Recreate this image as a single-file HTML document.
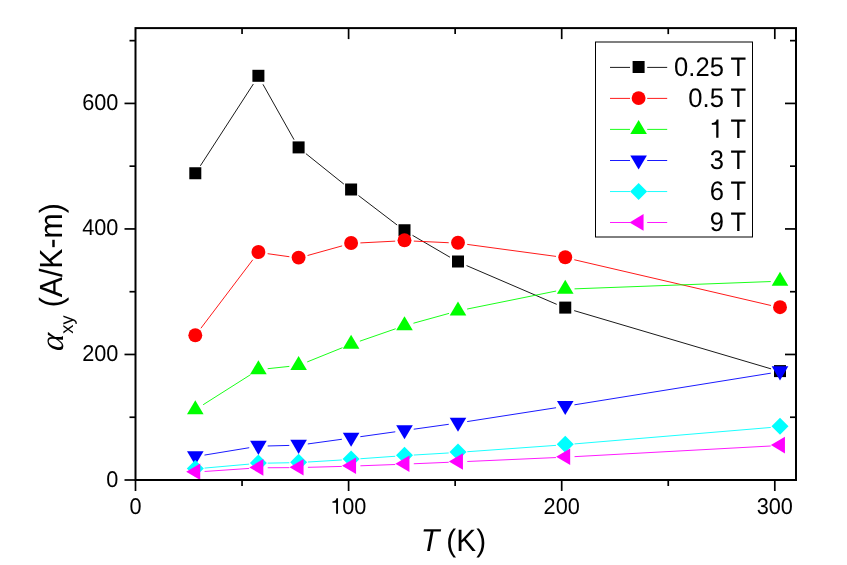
<!DOCTYPE html>
<html><head><meta charset="utf-8"><title>chart</title><style>html,body{margin:0;padding:0;background:#fff}body{width:847px;height:565px;overflow:hidden}</style></head><body>
<svg width="847" height="565" viewBox="0 0 847 565" style="position:fixed;left:0;top:0;display:block;will-change:transform;text-rendering:geometricPrecision;font-family:'Liberation Sans',sans-serif">
<rect width="847" height="565" fill="#fff"/>
<line x1="200.35" y1="165.84" x2="253.35" y2="84.01" stroke="#000000" stroke-width="0.9"/>
<line x1="262.95" y1="84.31" x2="294.05" y2="139.69" stroke="#000000" stroke-width="0.9"/>
<line x1="305.86" y1="153.62" x2="343.84" y2="184.08" stroke="#000000" stroke-width="0.9"/>
<line x1="358.49" y1="195.54" x2="397.11" y2="225.01" stroke="#000000" stroke-width="0.9"/>
<line x1="412.53" y1="235.34" x2="449.97" y2="257.21" stroke="#000000" stroke-width="0.9"/>
<line x1="466.54" y1="265.57" x2="556.71" y2="304.33" stroke="#000000" stroke-width="0.9"/>
<line x1="574.17" y1="310.64" x2="771.08" y2="368.86" stroke="#000000" stroke-width="0.9"/>
<rect x="189.30" y="167.25" width="12.0" height="12.0" fill="#000000"/>
<rect x="252.40" y="69.80" width="12.0" height="12.0" fill="#000000"/>
<rect x="292.60" y="141.40" width="12.0" height="12.0" fill="#000000"/>
<rect x="345.10" y="183.50" width="12.0" height="12.0" fill="#000000"/>
<rect x="398.50" y="224.25" width="12.0" height="12.0" fill="#000000"/>
<rect x="452.00" y="255.50" width="12.0" height="12.0" fill="#000000"/>
<rect x="559.25" y="301.60" width="12.0" height="12.0" fill="#000000"/>
<rect x="774.00" y="365.10" width="12.0" height="12.0" fill="#000000"/>
<line x1="200.92" y1="328.24" x2="252.78" y2="259.81" stroke="#ff0000" stroke-width="0.9"/>
<line x1="267.61" y1="253.68" x2="289.39" y2="256.72" stroke="#ff0000" stroke-width="0.9"/>
<line x1="307.56" y1="255.51" x2="342.14" y2="245.89" stroke="#ff0000" stroke-width="0.9"/>
<line x1="360.39" y1="242.92" x2="395.21" y2="241.13" stroke="#ff0000" stroke-width="0.9"/>
<line x1="413.79" y1="241.08" x2="448.71" y2="242.72" stroke="#ff0000" stroke-width="0.9"/>
<line x1="467.22" y1="244.40" x2="556.03" y2="256.40" stroke="#ff0000" stroke-width="0.9"/>
<line x1="574.31" y1="259.76" x2="770.94" y2="305.49" stroke="#ff0000" stroke-width="0.9"/>
<circle cx="195.30" cy="335.25" r="6.95" fill="#ff0000"/>
<circle cx="258.40" cy="252.00" r="6.95" fill="#ff0000"/>
<circle cx="298.60" cy="257.60" r="6.95" fill="#ff0000"/>
<circle cx="351.10" cy="243.00" r="6.95" fill="#ff0000"/>
<circle cx="404.50" cy="240.25" r="6.95" fill="#ff0000"/>
<circle cx="458.00" cy="242.75" r="6.95" fill="#ff0000"/>
<circle cx="565.25" cy="257.25" r="6.95" fill="#ff0000"/>
<circle cx="780.00" cy="307.20" r="6.95" fill="#ff0000"/>
<line x1="203.15" y1="404.72" x2="250.55" y2="374.68" stroke="#00ff00" stroke-width="0.9"/>
<line x1="267.65" y1="368.71" x2="289.35" y2="366.39" stroke="#00ff00" stroke-width="0.9"/>
<line x1="307.22" y1="361.92" x2="342.48" y2="347.68" stroke="#00ff00" stroke-width="0.9"/>
<line x1="359.89" y1="341.16" x2="395.71" y2="328.74" stroke="#00ff00" stroke-width="0.9"/>
<line x1="413.46" y1="323.22" x2="449.04" y2="313.38" stroke="#00ff00" stroke-width="0.9"/>
<line x1="467.12" y1="309.06" x2="556.13" y2="291.04" stroke="#00ff00" stroke-width="0.9"/>
<line x1="574.54" y1="288.85" x2="770.71" y2="281.55" stroke="#00ff00" stroke-width="0.9"/>
<polygon points="195.30,400.20 203.60,414.25 187.00,414.25" fill="#00ff00"/>
<polygon points="258.40,360.20 266.70,374.25 250.10,374.25" fill="#00ff00"/>
<polygon points="298.60,355.90 306.90,369.95 290.30,369.95" fill="#00ff00"/>
<polygon points="351.10,334.70 359.40,348.75 342.80,348.75" fill="#00ff00"/>
<polygon points="404.50,316.20 412.80,330.25 396.20,330.25" fill="#00ff00"/>
<polygon points="458.00,301.40 466.30,315.45 449.70,315.45" fill="#00ff00"/>
<polygon points="565.25,279.70 573.55,293.75 556.95,293.75" fill="#00ff00"/>
<polygon points="780.00,271.70 788.30,285.75 771.70,285.75" fill="#00ff00"/>
<line x1="204.48" y1="455.09" x2="249.22" y2="447.71" stroke="#0000ff" stroke-width="0.9"/>
<line x1="267.70" y1="445.97" x2="289.30" y2="445.43" stroke="#0000ff" stroke-width="0.9"/>
<line x1="307.81" y1="443.94" x2="341.89" y2="439.26" stroke="#0000ff" stroke-width="0.9"/>
<line x1="360.31" y1="436.71" x2="395.29" y2="431.79" stroke="#0000ff" stroke-width="0.9"/>
<line x1="413.71" y1="429.21" x2="448.79" y2="424.29" stroke="#0000ff" stroke-width="0.9"/>
<line x1="467.19" y1="421.57" x2="556.06" y2="407.73" stroke="#0000ff" stroke-width="0.9"/>
<line x1="574.43" y1="404.82" x2="770.82" y2="373.18" stroke="#0000ff" stroke-width="0.9"/>
<polygon points="195.30,465.30 203.60,451.25 187.00,451.25" fill="#0000ff"/>
<polygon points="258.40,454.90 266.70,440.85 250.10,440.85" fill="#0000ff"/>
<polygon points="298.60,453.90 306.90,439.85 290.30,439.85" fill="#0000ff"/>
<polygon points="351.10,446.70 359.40,432.65 342.80,432.65" fill="#0000ff"/>
<polygon points="404.50,439.20 412.80,425.15 396.20,425.15" fill="#0000ff"/>
<polygon points="458.00,431.70 466.30,417.65 449.70,417.65" fill="#0000ff"/>
<polygon points="565.25,415.00 573.55,400.95 556.95,400.95" fill="#0000ff"/>
<polygon points="780.00,380.40 788.30,366.35 771.70,366.35" fill="#0000ff"/>
<line x1="204.56" y1="468.08" x2="249.14" y2="464.12" stroke="#00ffff" stroke-width="0.9"/>
<line x1="267.70" y1="463.14" x2="289.30" y2="462.76" stroke="#00ffff" stroke-width="0.9"/>
<line x1="307.88" y1="462.03" x2="341.82" y2="459.97" stroke="#00ffff" stroke-width="0.9"/>
<line x1="360.38" y1="458.74" x2="395.22" y2="456.26" stroke="#00ffff" stroke-width="0.9"/>
<line x1="413.78" y1="455.04" x2="448.72" y2="452.96" stroke="#00ffff" stroke-width="0.9"/>
<line x1="467.28" y1="451.73" x2="555.97" y2="445.37" stroke="#00ffff" stroke-width="0.9"/>
<line x1="574.52" y1="443.92" x2="770.73" y2="427.48" stroke="#00ffff" stroke-width="0.9"/>
<polygon points="195.30,460.00 203.80,468.50 195.30,477.00 186.80,468.50" fill="#00ffff"/>
<polygon points="258.40,454.40 266.90,462.90 258.40,471.40 249.90,462.90" fill="#00ffff"/>
<polygon points="298.60,453.70 307.10,462.20 298.60,470.70 290.10,462.20" fill="#00ffff"/>
<polygon points="351.10,450.50 359.60,459.00 351.10,467.50 342.60,459.00" fill="#00ffff"/>
<polygon points="404.50,446.70 413.00,455.20 404.50,463.70 396.00,455.20" fill="#00ffff"/>
<polygon points="458.00,443.50 466.50,452.00 458.00,460.50 449.50,452.00" fill="#00ffff"/>
<polygon points="565.25,435.80 573.75,444.30 565.25,452.80 556.75,444.30" fill="#00ffff"/>
<polygon points="780.00,417.80 788.50,426.30 780.00,434.80 771.50,426.30" fill="#00ffff"/>
<line x1="204.58" y1="471.47" x2="249.12" y2="468.43" stroke="#ff00ff" stroke-width="0.9"/>
<line x1="267.70" y1="467.75" x2="289.30" y2="467.65" stroke="#ff00ff" stroke-width="0.9"/>
<line x1="307.90" y1="467.34" x2="341.80" y2="466.41" stroke="#ff00ff" stroke-width="0.9"/>
<line x1="360.39" y1="465.80" x2="395.21" y2="464.50" stroke="#ff00ff" stroke-width="0.9"/>
<line x1="413.79" y1="463.76" x2="448.71" y2="462.29" stroke="#ff00ff" stroke-width="0.9"/>
<line x1="467.29" y1="461.49" x2="555.96" y2="457.56" stroke="#ff00ff" stroke-width="0.9"/>
<line x1="574.54" y1="456.65" x2="770.71" y2="446.00" stroke="#ff00ff" stroke-width="0.9"/>
<polygon points="186.20,471.70 200.25,463.40 200.25,480.00" fill="#ff00ff"/>
<polygon points="249.30,467.40 263.35,459.10 263.35,475.70" fill="#ff00ff"/>
<polygon points="289.50,467.20 303.55,458.90 303.55,475.50" fill="#ff00ff"/>
<polygon points="342.00,465.75 356.05,457.45 356.05,474.05" fill="#ff00ff"/>
<polygon points="395.40,463.75 409.45,455.45 409.45,472.05" fill="#ff00ff"/>
<polygon points="448.90,461.50 462.95,453.20 462.95,469.80" fill="#ff00ff"/>
<polygon points="556.15,456.75 570.20,448.45 570.20,465.05" fill="#ff00ff"/>
<polygon points="770.90,445.10 784.95,436.80 784.95,453.40" fill="#ff00ff"/>
<rect x="135.5" y="28.1" width="660.5" height="451.9" fill="none" stroke="#000" stroke-width="2.0"/>
<line x1="135.50" y1="480.0" x2="135.50" y2="491.0" stroke="#000" stroke-width="1.7"/>
<text transform="translate(135.50,513.8) scale(1,1.05)" font-size="21.7" text-anchor="middle">0</text>
<line x1="242.05" y1="480.0" x2="242.05" y2="486.0" stroke="#000" stroke-width="1.7"/>
<line x1="242.05" y1="28.1" x2="242.05" y2="34.1" stroke="#000" stroke-width="1.7"/>
<line x1="348.60" y1="480.0" x2="348.60" y2="491.0" stroke="#000" stroke-width="1.7"/>
<line x1="348.60" y1="28.1" x2="348.60" y2="39.1" stroke="#000" stroke-width="1.7"/>
<path transform="translate(330.20,513.80) scale(0.02180,-0.02180)" d="M359,0 L359,709 L288,709 C270,617 220,578 101,568 L101,505 L271,505 L271,0 Z" fill="#000"/>
<text transform="translate(342.27,513.8) scale(1,1.05)" font-size="21.7">00</text>
<line x1="455.15" y1="480.0" x2="455.15" y2="486.0" stroke="#000" stroke-width="1.7"/>
<line x1="455.15" y1="28.1" x2="455.15" y2="34.1" stroke="#000" stroke-width="1.7"/>
<line x1="561.70" y1="480.0" x2="561.70" y2="491.0" stroke="#000" stroke-width="1.7"/>
<line x1="561.70" y1="28.1" x2="561.70" y2="39.1" stroke="#000" stroke-width="1.7"/>
<text transform="translate(561.70,513.8) scale(1,1.05)" font-size="21.7" text-anchor="middle">200</text>
<line x1="668.25" y1="480.0" x2="668.25" y2="486.0" stroke="#000" stroke-width="1.7"/>
<line x1="668.25" y1="28.1" x2="668.25" y2="34.1" stroke="#000" stroke-width="1.7"/>
<line x1="774.80" y1="480.0" x2="774.80" y2="491.0" stroke="#000" stroke-width="1.7"/>
<line x1="774.80" y1="28.1" x2="774.80" y2="39.1" stroke="#000" stroke-width="1.7"/>
<text transform="translate(774.80,513.8) scale(1,1.05)" font-size="21.7" text-anchor="middle">300</text>
<line x1="135.5" y1="480.00" x2="124.5" y2="480.00" stroke="#000" stroke-width="1.7"/>
<text transform="translate(118.4,486.55) scale(1,1.05)" font-size="21.7" text-anchor="end">0</text>
<line x1="135.5" y1="417.24" x2="129.5" y2="417.24" stroke="#000" stroke-width="1.7"/>
<line x1="796.0" y1="417.24" x2="790.0" y2="417.24" stroke="#000" stroke-width="1.7"/>
<line x1="135.5" y1="354.47" x2="124.5" y2="354.47" stroke="#000" stroke-width="1.7"/>
<line x1="796.0" y1="354.47" x2="785.0" y2="354.47" stroke="#000" stroke-width="1.7"/>
<text transform="translate(118.4,361.02) scale(1,1.05)" font-size="21.7" text-anchor="end">200</text>
<line x1="135.5" y1="291.71" x2="129.5" y2="291.71" stroke="#000" stroke-width="1.7"/>
<line x1="796.0" y1="291.71" x2="790.0" y2="291.71" stroke="#000" stroke-width="1.7"/>
<line x1="135.5" y1="228.94" x2="124.5" y2="228.94" stroke="#000" stroke-width="1.7"/>
<line x1="796.0" y1="228.94" x2="785.0" y2="228.94" stroke="#000" stroke-width="1.7"/>
<text transform="translate(118.4,235.49) scale(1,1.05)" font-size="21.7" text-anchor="end">400</text>
<line x1="135.5" y1="166.18" x2="129.5" y2="166.18" stroke="#000" stroke-width="1.7"/>
<line x1="796.0" y1="166.18" x2="790.0" y2="166.18" stroke="#000" stroke-width="1.7"/>
<line x1="135.5" y1="103.42" x2="124.5" y2="103.42" stroke="#000" stroke-width="1.7"/>
<line x1="796.0" y1="103.42" x2="785.0" y2="103.42" stroke="#000" stroke-width="1.7"/>
<text transform="translate(118.4,109.97) scale(1,1.05)" font-size="21.7" text-anchor="end">600</text>
<line x1="135.5" y1="40.65" x2="129.5" y2="40.65" stroke="#000" stroke-width="1.7"/>
<line x1="796.0" y1="40.65" x2="790.0" y2="40.65" stroke="#000" stroke-width="1.7"/>
<g transform="translate(0,550.5) scale(1,1.04)"><text x="420.8" y="0" font-size="30.5" font-style="italic">T</text><text x="446.35" y="0" font-size="29.8">(K)</text></g>
<g transform="translate(61.9,350.3) rotate(-90)"><text transform="skewX(-15)" x="-2.3" y="0.9" font-family="'Liberation Serif',serif" font-size="33">α</text><text x="16.6" y="10.6" font-size="18.3">xy</text><text transform="scale(1,1.06)" x="43.0" y="0" font-size="30.25">(A/K-m)</text></g>
<rect x="595.5" y="42" width="157" height="195" fill="#fff" stroke="#000" stroke-width="1"/>
<line x1="610" y1="67.40" x2="630.00" y2="67.40" stroke="#000000" stroke-width="0.9"/>
<line x1="647.20" y1="67.40" x2="667.2" y2="67.40" stroke="#000000" stroke-width="0.9"/>
<rect x="632.60" y="61.00" width="12.0" height="12.0" fill="#000000"/>
<text transform="translate(746.2,75.80) scale(1,1.045)" font-size="25.6" text-anchor="end">0.25 T</text>
<line x1="610" y1="98.40" x2="630.00" y2="98.40" stroke="#ff0000" stroke-width="0.9"/>
<line x1="647.20" y1="98.40" x2="667.2" y2="98.40" stroke="#ff0000" stroke-width="0.9"/>
<circle cx="638.60" cy="98.10" r="6.95" fill="#ff0000"/>
<text transform="translate(746.2,106.90) scale(1,1.045)" font-size="25.6" text-anchor="end">0.5 T</text>
<line x1="610" y1="129.40" x2="630.00" y2="129.40" stroke="#00ff00" stroke-width="0.9"/>
<line x1="647.20" y1="129.40" x2="667.2" y2="129.40" stroke="#00ff00" stroke-width="0.9"/>
<polygon points="638.60,119.90 646.90,133.95 630.30,133.95" fill="#00ff00"/>
<path transform="translate(709.20,137.80) scale(0.02586,-0.02586)" d="M359,0 L359,709 L288,709 C270,617 220,578 101,568 L101,505 L271,505 L271,0 Z" fill="#000"/>
<text transform="translate(746.2,137.80) scale(1,1.045)" font-size="25.6" text-anchor="end">T</text>
<line x1="610" y1="160.50" x2="630.00" y2="160.50" stroke="#0000ff" stroke-width="0.9"/>
<line x1="647.20" y1="160.50" x2="667.2" y2="160.50" stroke="#0000ff" stroke-width="0.9"/>
<polygon points="638.60,169.50 646.90,155.45 630.30,155.45" fill="#0000ff"/>
<text transform="translate(746.2,169.20) scale(1,1.045)" font-size="25.6" text-anchor="end">3 T</text>
<line x1="610" y1="191.55" x2="630.00" y2="191.55" stroke="#00ffff" stroke-width="0.9"/>
<line x1="647.20" y1="191.55" x2="667.2" y2="191.55" stroke="#00ffff" stroke-width="0.9"/>
<polygon points="638.60,183.10 647.10,191.60 638.60,200.10 630.10,191.60" fill="#00ffff"/>
<text transform="translate(746.2,200.40) scale(1,1.045)" font-size="25.6" text-anchor="end">6 T</text>
<line x1="610" y1="222.50" x2="630.00" y2="222.50" stroke="#ff00ff" stroke-width="0.9"/>
<line x1="647.20" y1="222.50" x2="667.2" y2="222.50" stroke="#ff00ff" stroke-width="0.9"/>
<polygon points="629.50,222.40 643.55,214.10 643.55,230.70" fill="#ff00ff"/>
<text transform="translate(746.2,231.20) scale(1,1.045)" font-size="25.6" text-anchor="end">9 T</text>
</svg>
</body></html>
